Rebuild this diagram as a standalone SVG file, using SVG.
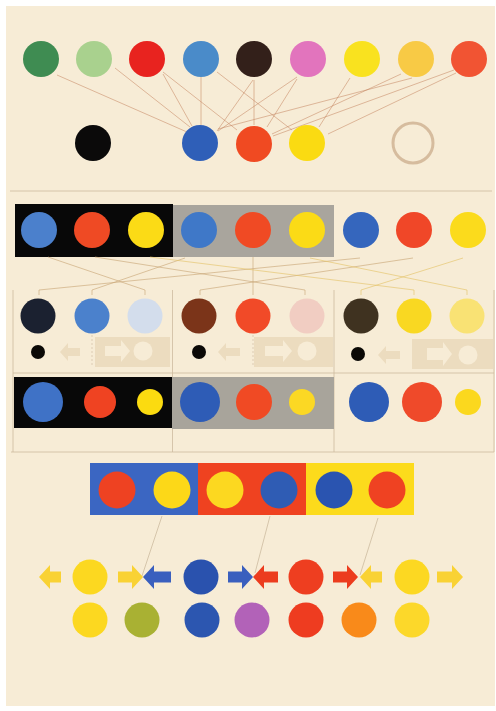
<svg xmlns="http://www.w3.org/2000/svg" width="496" height="711" viewBox="0 0 496 711">
<style>
.ln{stroke:#c4825e;stroke-width:0.7;fill:none;opacity:0.75}
.lm{stroke:#c9a576;stroke-width:0.7;fill:none;opacity:0.9}
.ly{stroke:#e4c266;stroke-width:0.7;fill:none;opacity:0.9}
.rule{stroke:#cdbb9f;stroke-width:0.8;fill:none}
.faint{fill:#ecdcbf}
.paper{fill:#f7ecd6}
</style>
<rect width="496" height="711" fill="#ffffff"/>
<rect class="paper" x="6" y="6" width="489" height="700"/>

<!-- Section 1: top rows -->
<g id="connectors-top">
<line class="ln" x1="57" y1="75" x2="187" y2="132"/>
<line class="ln" x1="115" y1="68" x2="190" y2="127"/>
<line class="ln" x1="163" y1="74" x2="192" y2="126"/>
<line class="ln" x1="163" y1="72" x2="237" y2="130"/>
<line class="ln" x1="201" y1="77" x2="201" y2="125"/>
<line class="ln" x1="217" y1="72" x2="292" y2="130"/>
<line class="ln" x1="253" y1="80" x2="217" y2="131"/>
<line class="ln" x1="254" y1="80" x2="254" y2="125"/>
<line class="ln" x1="297" y1="77" x2="218" y2="131"/>
<line class="ln" x1="297" y1="79" x2="267" y2="127"/>
<line class="ln" x1="350" y1="78" x2="319" y2="127"/>
<line class="ln" x1="401" y1="74" x2="272" y2="134"/>
<line class="ln" x1="454" y1="70" x2="273" y2="136"/>
<line class="ln" x1="456" y1="73" x2="328" y2="134"/>
<line class="ln" x1="218" y1="129" x2="412" y2="78"/>
</g>
<g id="row1">
<circle cx="41" cy="59" r="18" fill="#3f8c52"/>
<circle cx="94" cy="59" r="18" fill="#a9d18e"/>
<circle cx="147" cy="59" r="18" fill="#e8231f"/>
<circle cx="201" cy="59" r="18" fill="#4a8bc9"/>
<circle cx="254" cy="59" r="18" fill="#33201a"/>
<circle cx="308" cy="59" r="18" fill="#e274bd"/>
<circle cx="362" cy="59" r="18" fill="#f9e21f"/>
<circle cx="416" cy="59" r="18" fill="#f8ca45"/>
<circle cx="469" cy="59" r="18" fill="#f15433"/>
</g>
<g id="row2">
<circle cx="93" cy="143" r="18" fill="#0b0a0a"/>
<circle cx="200" cy="143" r="18" fill="#2f5fb8"/>
<circle cx="254" cy="144" r="18" fill="#f04a22"/>
<circle cx="307" cy="143" r="18" fill="#fadb12"/>
<circle cx="413" cy="143" r="20" fill="none" stroke="#d6bc9e" stroke-width="3"/>
</g>
<line class="rule" x1="10" y1="191" x2="492" y2="191"/>

<!-- Section 2: contrast study -->
<g id="panel-top">
<rect x="15" y="204" width="158" height="53" fill="#080808"/>
<rect x="173" y="205" width="161" height="52" fill="#a9a59d"/>
<circle cx="39" cy="230" r="18" fill="#4b80cc"/>
<circle cx="92" cy="230" r="18" fill="#ef4a24"/>
<circle cx="146" cy="230" r="18" fill="#fbdb16"/>
<circle cx="199" cy="230" r="18" fill="#3f78c8"/>
<circle cx="253" cy="230" r="18" fill="#f04a24"/>
<circle cx="307" cy="230" r="18" fill="#fbdb16"/>
<circle cx="361" cy="230" r="18" fill="#3566bd"/>
<circle cx="414" cy="230" r="18" fill="#f04728"/>
<circle cx="468" cy="230" r="18" fill="#fbdb1c"/>
</g>
<g id="connectors-middle">
<line class="lm" x1="48" y1="257" x2="145" y2="290"/>
<line class="lm" x1="185" y1="258" x2="92" y2="290"/>
<line class="lm" x1="360" y1="258" x2="39" y2="290"/>
<line class="lm" x1="95" y1="257" x2="305" y2="290"/>
<line class="lm" x1="253" y1="257" x2="253" y2="290"/>
<line class="lm" x1="413" y1="258" x2="200" y2="290"/>
<line class="ly" x1="150" y1="257" x2="414" y2="290"/>
<line class="ly" x1="310" y1="258" x2="467" y2="290"/>
<line class="ly" x1="463" y1="258" x2="361" y2="290"/>
<path class="lm" d="M39,290v5M92,290v5M145,290v5M200,290v5M253,290v5M305,290v5"/>
<path class="ly" d="M361,290v5M414,290v5M467,290v5"/>
</g>
<g id="frame">
<path class="rule" d="M13,290V452M172.5,290V452M334,290V452M494,290V452"/>
<line class="rule" x1="13" y1="373" x2="494" y2="373"/>
<line class="rule" x1="11" y1="452" x2="494" y2="452"/>
<path d="M92,335V367M253,335V367" stroke="#cdbb9f" stroke-width="0.6" stroke-dasharray="2,2" fill="none"/>
</g>
<g id="group-blue">
<circle cx="38" cy="316" r="17.5" fill="#1b2130"/>
<circle cx="92" cy="316" r="17.5" fill="#4b81cc"/>
<circle cx="145" cy="316" r="17.5" fill="#d3ddec"/>
<circle cx="38" cy="352" r="7" fill="#0b0906"/>
<path class="faint" d="M80,348H68V343L60,352L68,361V356H80Z"/>
<rect class="faint" x="95" y="337" width="75" height="30"/>
<path class="paper" d="M105,346H121V340L130,351L121,362V356H105Z"/>
<circle class="paper" cx="143" cy="351" r="9.5"/>
</g>
<g id="group-red">
<circle cx="199" cy="316" r="17.5" fill="#7b3419"/>
<circle cx="253" cy="316" r="17.5" fill="#f14a28"/>
<circle cx="307" cy="316" r="17.5" fill="#f1cdc2"/>
<circle cx="199" cy="352" r="7" fill="#0b0906"/>
<path class="faint" d="M240,348H226V343L218,352L226,361V356H240Z"/>
<rect class="faint" x="254" y="337" width="79" height="30"/>
<path class="paper" d="M265,346H283V340L292,351L283,362V356H265Z"/>
<circle class="paper" cx="307" cy="351" r="9.5"/>
</g>
<g id="group-yellow">
<circle cx="361" cy="316" r="17.5" fill="#3f3220"/>
<circle cx="414" cy="316" r="17.5" fill="#f9d822"/>
<circle cx="467" cy="316" r="17.5" fill="#f9e274"/>
<circle cx="358" cy="354" r="7" fill="#0b0906"/>
<path class="faint" d="M400,351H386V346L378,355L386,364V359H400Z"/>
<rect class="faint" x="412" y="339" width="81" height="30"/>
<path class="paper" d="M427,348H443V342L452,354L443,366V360H427Z"/>
<circle class="paper" cx="468" cy="355" r="9.5"/>
</g>
<g id="panel-bottom">
<rect x="14" y="377" width="158" height="51" fill="#080808"/>
<rect x="172" y="377" width="162" height="52" fill="#a8a49b"/>
<circle cx="43" cy="402" r="20" fill="#3f72c6"/>
<circle cx="100" cy="402" r="16" fill="#ef4322"/>
<circle cx="150" cy="402" r="13" fill="#fbdb10"/>
<circle cx="200" cy="402" r="20" fill="#2e5cb6"/>
<circle cx="254" cy="402" r="18" fill="#f04a24"/>
<circle cx="302" cy="402" r="13" fill="#fbd824"/>
<circle cx="369" cy="402" r="20" fill="#2e5cb6"/>
<circle cx="422" cy="402" r="20" fill="#ef4a2a"/>
<circle cx="468" cy="402" r="13" fill="#fbd81e"/>
</g>

<!-- Section 3: complementary band and arrows -->
<g id="band">
<rect x="90" y="463" width="109" height="52" fill="#3b66c2"/>
<rect x="198" y="463" width="108" height="52" fill="#ef4220"/>
<rect x="306" y="463" width="108" height="52" fill="#fcdb1c"/>
<circle cx="117" cy="490" r="18.5" fill="#ee4222"/>
<circle cx="172" cy="490" r="18.5" fill="#fcd818"/>
<circle cx="225" cy="490" r="18.5" fill="#fcd820"/>
<circle cx="279" cy="490" r="18.5" fill="#2f5cb4"/>
<circle cx="334" cy="490" r="18.5" fill="#2a54b0"/>
<circle cx="387" cy="490" r="18.5" fill="#ef4222"/>
</g>
<g id="connectors-bottom">
<line class="rule" x1="162" y1="516" x2="142" y2="576"/>
<line class="rule" x1="270" y1="516" x2="255" y2="573"/>
<line class="rule" x1="378" y1="518" x2="360" y2="575"/>
</g>
<g id="arrow-row">
<path fill="#f9d234" d="M61,571.5H50V565L39,577L50,589V582.5H61Z"/>
<circle cx="90" cy="577" r="17.5" fill="#fcd820"/>
<path fill="#f9d234" d="M118,571.5H132V565L143,577L132,589V582.5H118Z"/>
<path fill="#3a5fbe" d="M171,571.5H154V565L143,577L154,589V582.5H171Z"/>
<circle cx="201" cy="577" r="17.5" fill="#2a52ae"/>
<path fill="#3a5fbe" d="M228,571.5H242V565L253,577L242,589V582.5H228Z"/>
<path fill="#ec3c1e" d="M278,571.5H264V565L253,577L264,589V582.5H278Z"/>
<circle cx="306" cy="577" r="17.5" fill="#ee3e20"/>
<path fill="#ec3c1e" d="M333,571.5H347V565L358,577L347,589V582.5H333Z"/>
<path fill="#f9d234" d="M382,571.5H371V565L360,577L371,589V582.5H382Z"/>
<circle cx="412" cy="577" r="17.5" fill="#fcd822"/>
<path fill="#f9d234" d="M437,571.5H452V565L463,577L452,589V582.5H437Z"/>
</g>
<g id="mixture-row">
<circle cx="90" cy="620" r="17.5" fill="#fcd820"/>
<circle cx="142" cy="620" r="17.5" fill="#a9b133"/>
<circle cx="202" cy="620" r="17.5" fill="#2c56b0"/>
<circle cx="252" cy="620" r="17.5" fill="#b262b8"/>
<circle cx="306" cy="620" r="17.5" fill="#ee3c20"/>
<circle cx="359" cy="620" r="17.5" fill="#f98a1a"/>
<circle cx="412" cy="620" r="17.5" fill="#fcd82a"/>
</g>
</svg>
